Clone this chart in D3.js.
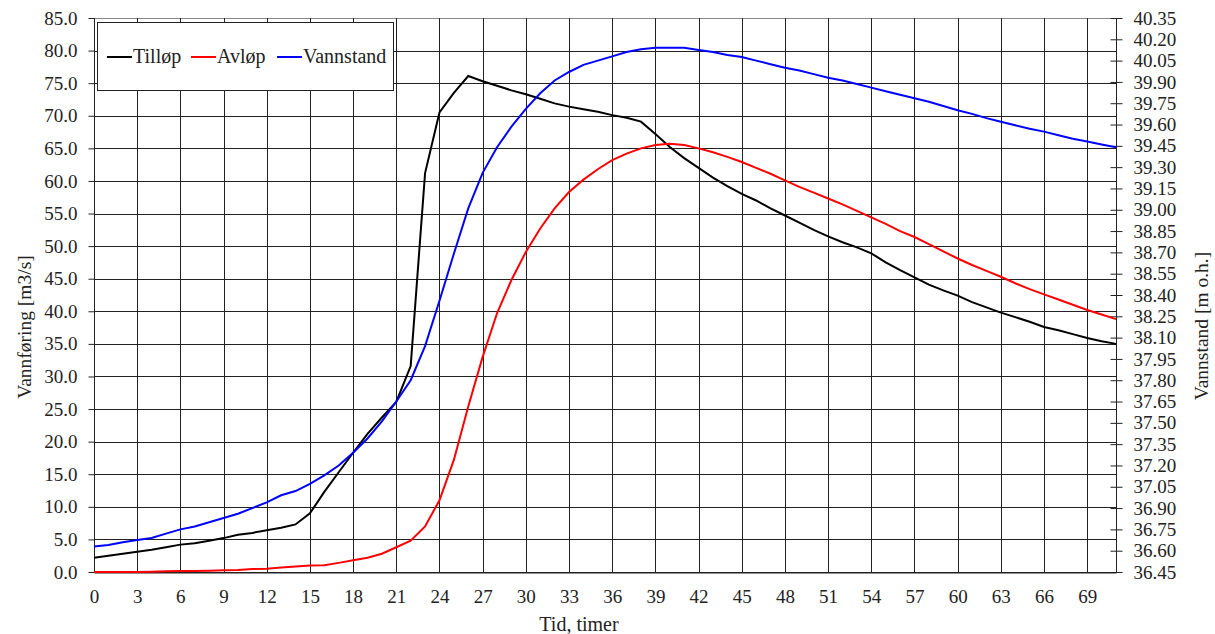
<!DOCTYPE html>
<html>
<head>
<meta charset="utf-8">
<script src="https://cdn.jsdelivr.net/npm/d3@7"></script>
<style>
  body { margin: 0; background: #fff; }
  svg text { font-family: "Liberation Serif", "Times New Roman", serif; fill: #222; }
</style>
</head>
<body>
<div id="chart"></div>
<script>
// Hours 0..71
var timer = d3.range(0, 72);

// Tilløp (inflow, m3/s)
var tillop = [2.2, 2.5, 2.8, 3.1, 3.4, 3.8, 4.2, 4.4, 4.8, 5.2,
  5.7, 6.0, 6.4, 6.8, 7.3, 9.0, 12.3, 15.3, 18.3, 21.2,
  23.7, 26.1, 31.6, 61.2, 70.5, 73.5, 76.1, 75.3, 74.6, 73.9,
  73.3, 72.6, 71.9, 71.4, 71.0, 70.6, 70.1, 69.7, 69.1, 67.2,
  65.2, 63.5, 62.0, 60.5, 59.2, 58.0, 57.0, 55.8, 54.7, 53.6,
  52.5, 51.5, 50.6, 49.8, 48.9, 47.5, 46.3, 45.2, 44.1, 43.2,
  42.4, 41.4, 40.6, 39.8, 39.1, 38.4, 37.6, 37.1, 36.5, 35.9,
  35.4, 35.0];

// Avløp (outflow, m3/s)
var avlop = [0.0, 0.0, 0.0, 0.0, 0.05, 0.1, 0.15, 0.15, 0.2, 0.25,
  0.3, 0.45, 0.5, 0.7, 0.85, 1.0, 1.05, 1.4, 1.8, 2.2,
  2.8, 3.8, 4.8, 7.0, 11.0, 17.2, 25.4, 33.0, 39.7, 44.8,
  49.1, 52.7, 55.8, 58.3, 60.2, 61.8, 63.2, 64.2, 65.0, 65.5,
  65.7, 65.5, 65.0, 64.4, 63.7, 62.9, 62.0, 61.1, 60.1, 59.1,
  58.2, 57.3, 56.4, 55.4, 54.4, 53.4, 52.3, 51.4, 50.3, 49.2,
  48.1, 47.1, 46.2, 45.3, 44.3, 43.4, 42.6, 41.8, 41.0, 40.2,
  39.5, 38.8];

// Vannstand (water level, m o.h.)
var vannstand = [36.63, 36.64, 36.66, 36.675, 36.69, 36.72, 36.75, 36.77, 36.80, 36.83,
  36.86, 36.90, 36.94, 36.99, 37.02, 37.07, 37.13, 37.20, 37.29, 37.39,
  37.51, 37.65, 37.80, 38.04, 38.36, 38.69, 39.01, 39.26, 39.44, 39.585,
  39.71, 39.82, 39.91, 39.97, 40.02, 40.05, 40.08, 40.11, 40.13, 40.14,
  40.14, 40.14, 40.125, 40.11, 40.09, 40.075, 40.05, 40.025, 40.0, 39.98,
  39.955, 39.93, 39.91, 39.885, 39.86, 39.835, 39.81, 39.785, 39.76, 39.73,
  39.70, 39.675, 39.645, 39.62, 39.595, 39.57, 39.55, 39.525, 39.50, 39.48,
  39.46, 39.44];

// Tick labels
var xTicks = d3.range(0, 70, 3);
var leftTicks = d3.range(0, 86, 5);
var rightTicks = d3.range(0, 27).map(function(i) { return 36.45 + i * 0.15; });

var width = 1215,
  height = 634;

var svg = d3.select('#chart')
  .append('svg')
  .attr('width', width)
  .attr('height', height);

var x = d3.scaleLinear().domain([0, 71]).range([94, 1116]);
var yL = d3.scaleLinear().domain([0, 85]).range([572, 18]);
var yR = d3.scaleLinear().domain([36.45, 40.35]).range([572, 18]);

// Grid
var grid = svg.append('g').attr('shape-rendering', 'crispEdges');

grid.selectAll('.hgrid')
  .data(leftTicks)
  .enter()
  .append('line')
  .attr('x1', x(0)).attr('x2', x(71))
  .attr('y1', function(d) { return Math.round(yL(d)) + 0.5; })
  .attr('y2', function(d) { return Math.round(yL(d)) + 0.5; })
  .attr('stroke', function(d) { return d == 85 ? '#888' : '#222'; })
  .attr('stroke-width', 1);

grid.selectAll('.vgrid')
  .data(xTicks)
  .enter()
  .append('line')
  .attr('x1', function(d) { return Math.round(x(d)) + 0.5; })
  .attr('x2', function(d) { return Math.round(x(d)) + 0.5; })
  .attr('y1', yL(0)).attr('y2', yL(85))
  .attr('stroke', '#222')
  .attr('stroke-width', 1);

// Left axis
var leftAxis = svg.append('g')
  .attr('transform', 'translate(' + (Math.round(x(0)) + 0.5) + ',0)')
  .call(d3.axisLeft(yL).tickValues(leftTicks).tickFormat(d3.format('.1f')).tickSize(6).tickPadding(11));

// Right axis, ticks crossing the line
var rightAxis = svg.append('g')
  .attr('transform', 'translate(' + (Math.round(x(71)) + 0.5) + ',0)')
  .call(d3.axisRight(yR).tickValues(rightTicks).tickFormat(d3.format('.2f')).tickSize(6).tickPadding(11));
rightAxis.selectAll('.tick line').attr('x1', -6);

// Bottom axis: labels only
var bottomAxis = svg.append('g')
  .attr('transform', 'translate(0,' + (Math.round(yL(0)) + 0.5) + ')')
  .call(d3.axisBottom(x).tickValues(xTicks).tickSize(0).tickPadding(17));

[leftAxis, rightAxis, bottomAxis].forEach(function(a) {
  a.attr('font-family', '"Liberation Serif", "Times New Roman", serif');
  a.selectAll('.domain').attr('stroke', '#222');
  a.selectAll('.tick line').attr('stroke', '#222');
  a.selectAll('text').style('font-size', '19px').attr('fill', '#222');
});
leftAxis.select('.domain').attr('d', 'M0,' + yL(85) + 'V' + yL(0));
rightAxis.select('.domain').attr('d', 'M0,' + yR(40.35) + 'V' + yR(36.45));

// Lines
var lineL = d3.line()
  .x(function(d, i) { return x(timer[i]); })
  .y(function(d) { return yL(d); });

var lineR = d3.line()
  .x(function(d, i) { return x(timer[i]); })
  .y(function(d) { return yR(d); });

svg.append('path').datum(tillop)
  .attr('d', lineL).attr('fill', 'none').attr('stroke', '#000').attr('stroke-width', 2);

svg.append('path').datum(avlop)
  .attr('d', lineL).attr('fill', 'none').attr('stroke', '#ff0000').attr('stroke-width', 2);

svg.append('path').datum(vannstand)
  .attr('d', lineR).attr('fill', 'none').attr('stroke', '#0000ff').attr('stroke-width', 2);

// Axis titles
svg.append('text')
  .attr('transform', 'translate(31,327) rotate(-90)')
  .attr('text-anchor', 'middle')
  .style('font-size', '19.5px')
  .text('Vannføring [m3/s]');

svg.append('text')
  .attr('transform', 'translate(1208,326) rotate(-90)')
  .attr('text-anchor', 'middle')
  .style('font-size', '19.5px')
  .text('Vannstand [m o.h.]');

svg.append('text')
  .attr('x', 579)
  .attr('y', 631)
  .attr('text-anchor', 'middle')
  .style('font-size', '20px')
  .text('Tid, timer');

// Legend
var legendItems = [
  { name: 'Tilløp', color: '#000', x: 107 },
  { name: 'Avløp', color: '#ff0000', x: 191 },
  { name: 'Vannstand', color: '#0000ff', x: 277 }
];

var legend = svg.append('g');

legend.append('rect')
  .attr('x', 97.5).attr('y', 22.5)
  .attr('width', 296).attr('height', 68)
  .attr('fill', '#fff')
  .attr('stroke', '#222')
  .attr('stroke-width', 1);

var item = legend.selectAll('.item')
  .data(legendItems)
  .enter()
  .append('g');

item.append('line')
  .attr('x1', function(d) { return d.x; })
  .attr('x2', function(d) { return d.x + 25; })
  .attr('y1', 57).attr('y2', 57)
  .attr('stroke', function(d) { return d.color; })
  .attr('stroke-width', 2);

item.append('text')
  .attr('x', function(d) { return d.x + 26; })
  .attr('y', 63)
  .style('font-size', '20px')
  .text(function(d) { return d.name; });
</script>
</body>
</html>
